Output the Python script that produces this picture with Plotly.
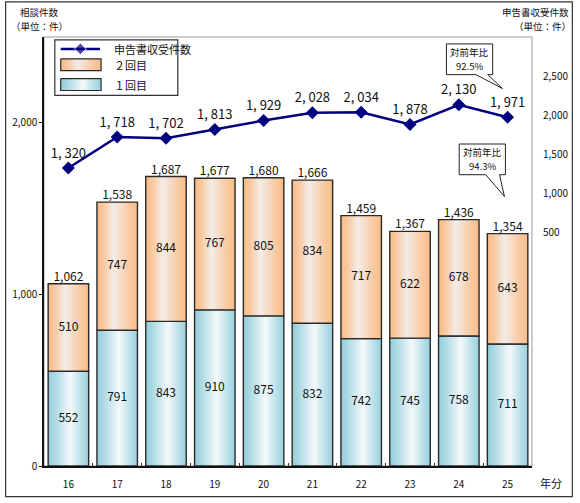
import plotly.graph_objects as go

years = ["16", "17", "18", "19", "20", "21", "22", "23", "24", "25"]
first_visit = [552, 791, 843, 910, 875, 832, 742, 745, 758, 711]
second_visit = [510, 747, 844, 767, 805, 834, 717, 622, 678, 643]
filings = [1320, 1718, 1702, 1813, 1929, 2028, 2034, 1878, 2130, 1971]
left_ticks = [0, 1000, 2000]
right_ticks = [500, 1000, 1500, 2000, 2500]
ratio_filings = "92.5%"
ratio_consult = "94.3%"

totals = [a + b for a, b in zip(first_visit, second_visit)]

W, H = 580, 503
ML, MR, MT, MB = 41, 43, 37, 33
PW, PH = W - ML - MR, H - MT - MB
FONT = "Noto Sans CJK JP, Noto Sans, sans-serif"


def px(x):
    return (x - ML) / PW


def py(y):
    return (H - MB - y) / PH


BLUE_SCALE = [[0, "#93cedb"], [0.15, "#a9d8e2"], [0.55, "#f4f9fb"], [0.85, "#b3dce6"], [1, "#9ad1dd"]]
ORANGE_SCALE = [[0, "#f8bb86"], [0.15, "#f9c79c"], [0.42, "#f3ece8"], [0.8, "#f9c9a0"], [1, "#f8bd8a"]]
EDGE = "#2a2a2a"
BW = 0.83

fig = go.Figure()


def bar_poly(i, y0, y1, scale, xa="x", ya="y"):
    x0, x1 = i - BW / 2, i + BW / 2
    fig.add_trace(go.Scatter(
        x=[x0, x1, x1, x0, x0], y=[y0, y0, y1, y1, y0],
        mode="lines", fill="toself",
        fillgradient=dict(type="horizontal", colorscale=scale),
        line=dict(color=EDGE, width=1.4),
        hoverinfo="skip", showlegend=False, xaxis=xa, yaxis=ya,
    ))


for i in range(len(years)):
    bar_poly(i, 0, first_visit[i], BLUE_SCALE)
    bar_poly(i, first_visit[i], totals[i], ORANGE_SCALE)

xs = list(range(len(years)))
fig.add_trace(go.Scatter(
    x=xs, y=[v / 2 for v in first_visit], mode="text",
    text=[str(v) for v in first_visit],
    textfont=dict(size=12, color="#111", family=FONT),
    hoverinfo="skip", showlegend=False,
))
fig.add_trace(go.Scatter(
    x=xs, y=[a + b / 2 for a, b in zip(first_visit, second_visit)], mode="text",
    text=[str(v) for v in second_visit],
    textfont=dict(size=12, color="#111", family=FONT),
    hoverinfo="skip", showlegend=False,
))
fig.add_trace(go.Scatter(
    x=xs, y=totals, mode="text", textposition="top center",
    text=[f"{v:,}" for v in totals],
    textfont=dict(size=12, color="#111", family=FONT),
    hoverinfo="skip", showlegend=False,
))

# filings line on right axis
fig.add_trace(go.Scatter(
    x=xs, y=filings, mode="lines+markers+text", yaxis="y2",
    line=dict(color="#000080", width=2.5),
    marker=dict(symbol="diamond", size=10, color="#000080"),
    text=[f"{v:,}".replace(",", ", ") for v in filings],
    textposition="top center",
    textfont=dict(size=13, color="#111", family=FONT),
    hoverinfo="skip", showlegend=False,
))


# legend swatches on a pixel-mapped overlay axis pair
def legend_box(x0, y0, x1, y1, scale):
    fig.add_trace(go.Scatter(
        x=[x0, x1, x1, x0, x0], y=[y0, y0, y1, y1, y0],
        mode="lines", fill="toself",
        fillgradient=dict(type="horizontal", colorscale=scale),
        line=dict(color=EDGE, width=1.2),
        hoverinfo="skip", showlegend=False, xaxis="x3", yaxis="y3",
    ))


legend_box(58, 59, 99, 71, ORANGE_SCALE)
legend_box(58, 79, 99, 91, BLUE_SCALE)
fig.add_trace(go.Scatter(
    x=[58, 78, 98], y=[49, 49, 49], mode="lines+markers",
    line=dict(color="#000080", width=2.5),
    marker=dict(symbol="diamond", size=[0, 9, 0], color="#000080"),
    hoverinfo="skip", showlegend=False, xaxis="x3", yaxis="y3",
))

shapes = [
    dict(type="rect", xref="paper", yref="paper", x0=0, y0=0, x1=1, y1=1,
         line=dict(color="#9a9a9a", width=1), layer="below"),
    dict(type="rect", xref="paper", yref="paper", x0=px(2), y0=py(501), x1=px(578), y1=py(1.5),
         line=dict(color="#333", width=1.2), layer="above"),
    dict(type="rect", xref="paper", yref="paper", x0=px(52), y0=py(96), x1=px(177), y1=py(40),
         line=dict(color="#333", width=1.2), fillcolor="white", layer="below"),
]


def callout(x0, y0, x1, y1, t0, t1, tip):
    path = (f"M {px(x0)},{py(y0)} L {px(x1)},{py(y0)} L {px(x1)},{py(y1)} "
            f"L {px(t1)},{py(y1)} L {px(tip[0])},{py(tip[1])} L {px(t0)},{py(y1)} "
            f"L {px(x0)},{py(y1)} Z")
    shapes.append(dict(type="path", xref="paper", yref="paper", path=path,
                       line=dict(color="#222", width=1), fillcolor="white", layer="above"))


callout(450, 44, 497, 75, 480, 492, (507, 89))
callout(463, 145, 510, 176, 490, 504, (509, 198))

ann = []


def text(x, y, s, size=10, anchor="center"):
    ann.append(dict(x=px(x), y=py(y), xref="paper", yref="paper", text=s, showarrow=False,
                    xanchor=anchor, yanchor="middle", align="center",
                    font=dict(size=size, color="#111", family=FONT)))


text(473.5, 52.5, "対前年比", size=9.5)
text(473.5, 66.5, ratio_filings, size=9.5)
text(486.5, 153.5, "対前年比", size=9.5)
text(486.5, 167.5, ratio_consult, size=9.5)
text(36, 12, "相談件数", size=9.5)
text(36, 26, "（単位：件）", size=9.5)
text(541, 12, "申告書収受件数", size=9.5)
text(548, 26, "（単位：件）", size=9.5)
text(556, 487, "年分", size=11)
text(110, 49, "申告書収受件数", size=11, anchor="left")
text(110, 65, "２回目", size=11, anchor="left")
text(110, 85, "１回目", size=11, anchor="left")

fig.update_layout(
    width=W, height=H,
    margin=dict(l=ML, r=MR, t=MT, b=MB),
    paper_bgcolor="white", plot_bgcolor="white",
    font=dict(family=FONT, size=10, color="#111"),
    showlegend=False,
    shapes=shapes, annotations=ann,
    xaxis=dict(range=[-0.5, len(years) - 0.5], tickvals=xs, ticktext=years,
               showgrid=False, zeroline=False, showline=True, linecolor="#111", linewidth=1.5,
               ticks="", ticklabelstandoff=8, tickfont=dict(size=10),
               minor=dict(tickvals=[i + 0.5 for i in xs[:-1]], ticks="inside", ticklen=3,
                          tickcolor="#333")),
    yaxis=dict(range=[0, 2500], tickvals=left_ticks, ticktext=[f"{v:,}" for v in left_ticks],
               showgrid=False, zeroline=False, showline=True, linecolor="#111", linewidth=1.5,
               ticks="outside", ticklen=3, tickcolor="#111", tickfont=dict(size=10)),
    yaxis2=dict(range=[-2500, 3000], overlaying="y", side="right",
                tickvals=right_ticks, ticktext=[f"{v:,}" for v in right_ticks],
                showgrid=False, zeroline=False, showline=False, ticks="",
                ticklabelstandoff=10, tickfont=dict(size=10)),
    xaxis3=dict(range=[ML, ML + PW], overlaying="x", anchor="y3", visible=False),
    yaxis3=dict(range=[H - MB, MT], overlaying="y", anchor="x3", visible=False),
)

fig.write_html("out.html", config={"displayModeBar": False},
               post_script="document.body.style.margin='0';document.body.style.overflow='hidden';")
